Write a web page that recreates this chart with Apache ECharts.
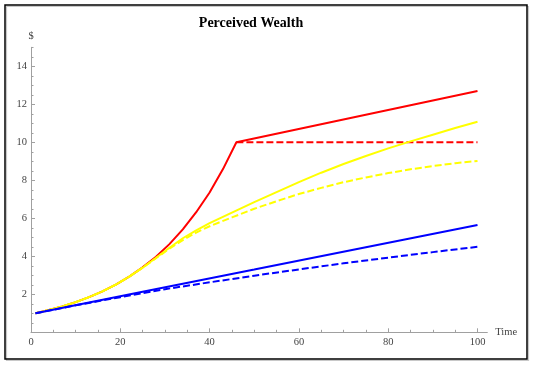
<!DOCTYPE html>
<html>
<head>
<meta charset="utf-8">
<script src="https://cdn.jsdelivr.net/npm/echarts@6/dist/echarts.min.js"></script>
<style>
html,body{margin:0;padding:0;background:#fff;}
#chart{width:533px;height:365px;}
</style>
</head>
<body>
<div id="chart"></div>
<script>
// ---- Data ----
const titleText = 'Perceived Wealth';
const xName = 'Time';
const yName = '$';

const xTickLabels = [0, 20, 40, 60, 80, 100];
const yTickLabels = [2, 4, 6, 8, 10, 12, 14];
const xMinorTicks = [5,10,15,20,25,30,35,40,45,50,55,60,65,70,75,80,85,90,95,100];
const yMinorTicks = [0.5,1,1.5,2,2.5,3,3.5,4,4.5,5,5.5,6,6.5,7,7.5,8,8.5,9,9.5,10,10.5,11,11.5,12,12.5,13,13.5,14,14.5,15];

const redTime  = [1, 4, 7, 10, 13, 16, 19, 22, 25, 28, 31, 34, 37, 40, 43, 46, 100];
const redSolid = [1.00, 1.17, 1.36, 1.59, 1.85, 2.15, 2.51, 2.93, 3.42, 3.98, 4.64, 5.42, 6.32, 7.36, 8.59, 10.0, 12.7];
const redFlatTime = [46, 100];
const redFlat     = [10.0, 10.0];

const yellowTime   = [1, 4, 7, 10, 13, 16, 19, 22, 25, 28, 31, 34, 37, 40, 45, 50, 55, 60, 65, 70, 75, 80, 85, 90, 95, 100];
const yellowSolid  = [1.00, 1.17, 1.36, 1.59, 1.85, 2.15, 2.51, 2.93, 3.40, 3.92, 4.45, 4.95, 5.37, 5.75, 6.30, 6.85, 7.38, 7.90, 8.40, 8.86, 9.28, 9.68, 10.05, 10.40, 10.75, 11.08];
const yellowDashed = [1.00, 1.17, 1.36, 1.59, 1.85, 2.15, 2.51, 2.93, 3.40, 3.90, 4.40, 4.85, 5.25, 5.58, 6.05, 6.50, 6.90, 7.28, 7.60, 7.90, 8.15, 8.38, 8.58, 8.75, 8.90, 9.02];

const blueSolidTime = [1, 25, 50, 75, 100];
const blueSolid     = [1.00, 2.13, 3.30, 4.48, 5.65];
const blueDashTime  = [1, 10, 20, 30, 40, 50, 60, 70, 80, 90, 100];
const blueDashed    = [1.00, 1.42, 1.85, 2.27, 2.63, 2.98, 3.31, 3.63, 3.93, 4.22, 4.50];

// ---- helpers ----
const pairs = (xs, ys) => xs.map((x, i) => [x, ys[i]]);
const X_MIN = 0, X_MAX = 102.2, Y_MIN = 0, Y_MAX = 15;
const serif = '"Liberation Serif", "DejaVu Serif", serif';
const axisGray = '#a0a0a0';
const labelColor = '#444';

function lineSeries(name, data, color, dashed) {
  return {
    name: name, type: 'line', data: data, showSymbol: false, symbol: 'none',
    smooth: false, silent: true, animation: false,
    lineStyle: { color: color, width: 2, type: dashed ? [7, 3] : 'solid' }
  };
}

const chart = echarts.init(document.getElementById('chart'), null, { renderer: 'canvas' });
chart.setOption({
  backgroundColor: '#ffffff',
  animation: false,
  title: {
    text: titleText, left: 251, top: 16, padding: 0, textAlign: 'center',
    textStyle: { fontFamily: serif, fontSize: 14, fontWeight: 'bold', color: '#000' }
  },
  graphic: [
    { type: 'rect', shape: { x: 6.5, y: 6.5, width: 522, height: 354 }, style: { fill: 'none', stroke: '#c8c8c8', lineWidth: 1.2 }, z: -1 },
    { type: 'rect', shape: { x: 5, y: 5, width: 522, height: 354 }, style: { fill: 'none', stroke: '#000', lineWidth: 1.5 } }
  ],
  grid: { left: 31, right: 533 - 31 - (X_MAX - X_MIN) * 4.465, top: 47.3, bottom: 365 - 332.3, containLabel: false },
  xAxis: [
    {
      type: 'value', min: X_MIN, max: X_MAX, interval: 20,
      name: xName, nameLocation: 'end', nameGap: 8,
      nameTextStyle: { fontFamily: serif, fontSize: 10.5, color: labelColor, verticalAlign: 'middle' },
      axisLine: { show: true, lineStyle: { color: axisGray, width: 1 } },
      axisTick: { show: true, inside: true, length: 4, customValues: xTickLabels, lineStyle: { color: axisGray } },
      axisLabel: { show: true, margin: 4, customValues: xTickLabels, fontFamily: serif, fontSize: 10.5, color: labelColor },
      splitLine: { show: false }
    },
    {
      type: 'value', min: X_MIN, max: X_MAX, interval: 5, position: 'bottom',
      axisLine: { show: false },
      axisTick: { show: true, inside: true, length: 2.5, customValues: xMinorTicks, lineStyle: { color: axisGray } },
      axisLabel: { show: false },
      splitLine: { show: false }
    }
  ],
  yAxis: [
    {
      type: 'value', min: Y_MIN, max: Y_MAX, interval: 2,
      name: yName, nameLocation: 'end', nameGap: 6,
      nameTextStyle: { fontFamily: serif, fontSize: 10.5, color: labelColor, align: 'center' },
      axisLine: { show: true, lineStyle: { color: axisGray, width: 1 } },
      axisTick: { show: true, inside: true, length: 4, customValues: yTickLabels, lineStyle: { color: axisGray } },
      axisLabel: { show: true, margin: 4, customValues: yTickLabels, fontFamily: serif, fontSize: 10.5, color: labelColor },
      splitLine: { show: false }
    },
    {
      type: 'value', min: Y_MIN, max: Y_MAX, interval: 0.5, position: 'left',
      axisLine: { show: false },
      axisTick: { show: true, inside: true, length: 2.5, customValues: yMinorTicks, lineStyle: { color: axisGray } },
      axisLabel: { show: false },
      splitLine: { show: false }
    }
  ],
  series: [
    lineSeries('red', pairs(redTime, redSolid), '#ff0000', false),
    lineSeries('red dashed', pairs(redFlatTime, redFlat), '#ff0000', true),
    lineSeries('yellow', pairs(yellowTime, yellowSolid), '#ffff00', false),
    lineSeries('yellow dashed', pairs(yellowTime, yellowDashed), '#ffff00', true),
    lineSeries('blue', pairs(blueSolidTime, blueSolid), '#0000ff', false),
    lineSeries('blue dashed', pairs(blueDashTime, blueDashed), '#0000ff', true)
  ]
});
</script>
</body>
</html>
